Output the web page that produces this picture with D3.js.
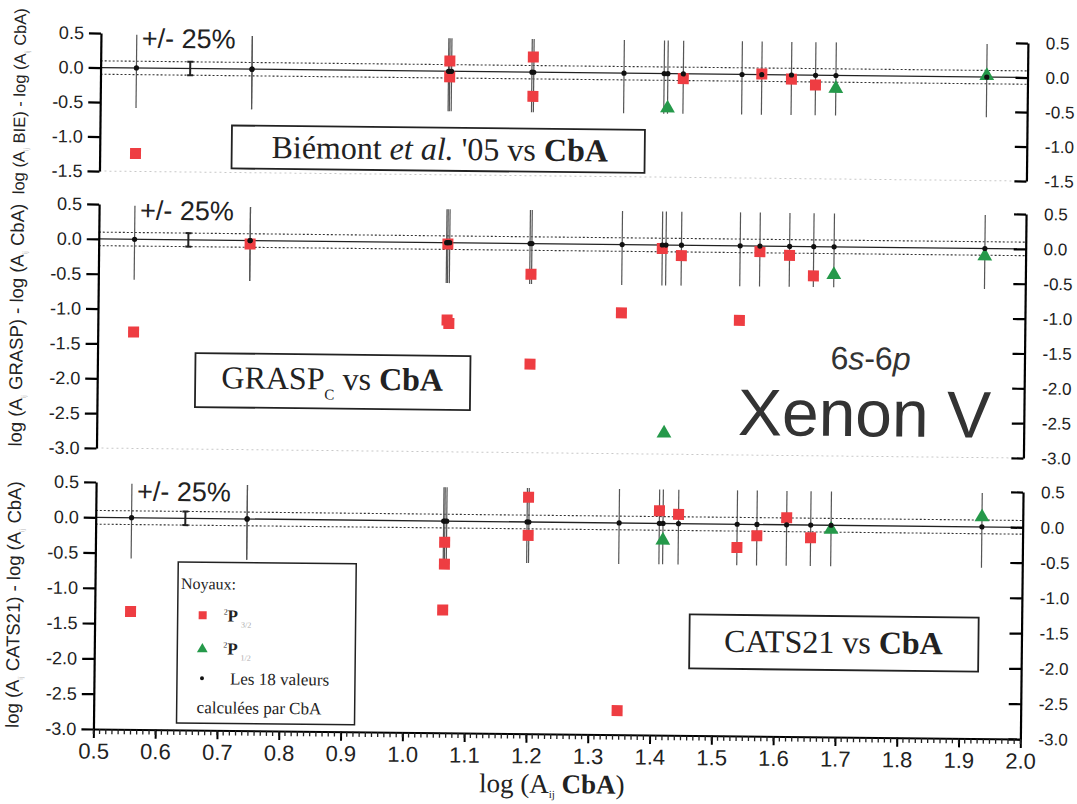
<!DOCTYPE html>
<html>
<head>
<meta charset="utf-8">
<script src="https://cdn.jsdelivr.net/npm/d3@7"></script>
<style>
  body { margin: 0; background: #fff; }
  text { font-family: "Liberation Sans", Arial, sans-serif; }
  .serif { font-family: "Liberation Serif", "Times New Roman", serif; }
</style>
</head>
<body>
<svg id="chart" width="1077" height="804"></svg>
<script>
// the 18 CbA transitions (x = log A CbA), all at 0 on every panel
const cbaX = [0.558, 0.745, 0.745, 1.063, 1.065, 1.068, 1.198, 1.201, 1.347, 1.412, 1.418, 1.443, 1.538, 1.570, 1.618, 1.657, 1.690, 1.934];
const errUp = 0.48, errDown = 0.58;
const band = 0.097; // log(1.25)

// Biémont et al. '05
const bieSqX = [0.558, 1.065, 1.065, 1.200, 1.200, 1.443, 1.570, 1.618, 1.657];
const bieSqY = [-1.24, 0.15, -0.08, 0.22, -0.35, -0.07, 0.01, -0.06, -0.14];
const bieTriX = [1.418, 1.690, 1.934];
const bieTriY = [-0.50, -0.19, 0.02];

// GRASP_C
const graspSqX = [0.558, 0.745, 1.065, 1.065, 1.068, 1.200, 1.200, 1.347, 1.412, 1.443, 1.538, 1.570, 1.618, 1.657];
const graspSqY = [-1.33, -0.05, -0.02, -1.11, -1.16, -0.44, -1.73, -0.98, -0.05, -0.15, -1.07, -0.08, -0.13, -0.42];
const graspTriX = [1.418, 1.690, 1.934];
const graspTriY = [-2.70, -0.40, -0.11];

// CATS21
const catsSqX = [0.558, 1.065, 1.065, 1.063, 1.200, 1.200, 1.347, 1.412, 1.443, 1.538, 1.570, 1.618, 1.657];
const catsSqY = [-1.33, -0.30, -0.61, -1.26, 0.35, -0.19, -2.66, 0.18, 0.13, -0.33, -0.16, 0.10, -0.18];
const catsTriX = [1.418, 1.690, 1.934];
const catsTriY = [-0.24, -0.06, 0.14];

const yTicksTop = [0.5, 0.0, -0.5, -1.0, -1.5];
const yTicksBig = [0.5, 0.0, -0.5, -1.0, -1.5, -2.0, -2.5, -3.0];
const xTicks = d3.range(5, 21).map(d => d / 10);
const xMinor = d3.range(50, 201).map(d => d / 100);

const RED = "#ee3d42", GREEN = "#25994a";

var svg = d3.select("#chart");
// the scanned figure is slightly tilted
var root = svg.append("g").attr("transform", "rotate(0.62 95 400)");

const x = d3.scaleLinear().domain([0.5, 2.0]).range([97, 1024]);

const panels = [
    {dom: [-1.5, 0.5], rng: [171, 33], ticks: yTicksTop, sqX: bieSqX, sqY: bieSqY, triX: bieTriX, triY: bieTriY,
     src: "BIE", pctY: 47, titleSize: 16.5},
    {dom: [-3.0, 0.5], rng: [448, 204], ticks: yTicksBig, sqX: graspSqX, sqY: graspSqY, triX: graspTriX, triY: graspTriY,
     src: "GRASP", pctY: 219, titleSize: 18.5},
    {dom: [-3.0, 0.5], rng: [729, 482], ticks: yTicksBig, sqX: catsSqX, sqY: catsSqY, triX: catsTriX, triY: catsTriY,
     src: "CATS21", pctY: 500, titleSize: 18.5, bottom: true}
];

const fmt = d => d.toFixed(1);

panels.forEach(p => {
    const y = d3.scaleLinear().domain(p.dom).range(p.rng);
    const g = root.append("g");

    // faint dotted line at panel floor
    if (!p.bottom) {
        g.append("line")
            .attr("x1", x(0.5)).attr("x2", x(2.0))
            .attr("y1", y(p.dom[0])).attr("y2", y(p.dom[0]))
            .attr("stroke", "#c8c8c8").attr("stroke-dasharray", "2,3");
    }

    // +/- 25% band
    [band, -band].forEach(b => {
        g.append("line")
            .attr("x1", x(0.5)).attr("x2", x(2.0))
            .attr("y1", y(b)).attr("y2", y(b))
            .attr("stroke", "#333").attr("stroke-width", 1.1).attr("stroke-dasharray", "2,2");
    });

    // zero line
    g.append("line")
        .attr("x1", x(0.5)).attr("x2", x(2.0))
        .attr("y1", y(0)).attr("y2", y(0))
        .attr("stroke", "#222").attr("stroke-width", 1.3);

    // error bars of CbA values
    g.selectAll(".err").data(cbaX).join("line")
        .attr("x1", d => x(d)).attr("x2", d => x(d))
        .attr("y1", y(errUp)).attr("y2", y(-errDown))
        .attr("stroke", "#555").attr("stroke-width", 1.2);

    // small 25% marker
    const mx = x(0.645);
    g.append("line").attr("x1", mx).attr("x2", mx).attr("y1", y(band)).attr("y2", y(-band))
        .attr("stroke", "#222").attr("stroke-width", 2);
    [band, -band].forEach(b => {
        g.append("line").attr("x1", mx - 3).attr("x2", mx + 3).attr("y1", y(b)).attr("y2", y(b))
            .attr("stroke", "#222").attr("stroke-width", 2);
    });

    // red squares
    g.selectAll(".sq").data(p.sqX).join("rect")
        .attr("x", d => x(d) - 5.5)
        .attr("y", (d, i) => y(p.sqY[i]) - 5.5)
        .attr("width", 11).attr("height", 11)
        .attr("fill", RED);

    // green triangles
    g.selectAll(".tri").data(p.triX).join("path")
        .attr("d", d3.symbol(d3.symbolTriangle).size(95))
        .attr("transform", (d, i) => "translate(" + x(d) + "," + y(p.triY[i]) + ")")
        .attr("fill", GREEN);

    // CbA dots
    g.selectAll(".dot").data(cbaX).join("circle")
        .attr("cx", d => x(d)).attr("cy", y(0)).attr("r", 2.6)
        .attr("fill", "#111");

    // left axis
    const la = g.append("g").attr("transform", "translate(" + x(0.5) + ",0)")
        .call(d3.axisLeft(y).tickValues(p.ticks).tickFormat(fmt).tickSizeInner(12).tickSizeOuter(0).tickPadding(5));
    la.select(".domain").attr("stroke-width", 2.2);
    la.selectAll(".tick line").attr("stroke-width", 2.2);
    la.selectAll("text").style("font-size", "18px").attr("fill", "#222");

    // right axis, ticks pointing inwards
    const ra = g.append("g").attr("transform", "translate(" + x(2.0) + ",0)")
        .call(d3.axisRight(y).tickValues(p.ticks).tickFormat(fmt).tickSizeInner(-12).tickSizeOuter(0).tickPadding(18));
    ra.select(".domain").attr("stroke-width", 2.2);
    ra.selectAll(".tick line").attr("stroke-width", 2.2);
    ra.selectAll("text").style("font-size", "17px").attr("fill", "#222");

    // y title
    const yc = (p.rng[0] + p.rng[1]) / 2;
    const t = g.append("text")
        .attr("transform", "translate(22," + yc + ") rotate(-90)")
        .attr("text-anchor", "middle")
        .style("font-size", p.titleSize + "px").attr("fill", "#222");
    t.append("tspan").text("log (A");
    t.append("tspan").text("ij").style("font-size", "7px").attr("fill", "#bbb").attr("dy", 4);
    t.append("tspan").text(" " + p.src + ") - log (A").attr("dy", -4);
    t.append("tspan").text("ij").style("font-size", "7px").attr("fill", "#bbb").attr("dy", 4);
    t.append("tspan").text(" CbA)").attr("dy", -4);

    // +/- 25%
    g.append("text").attr("x", 138).attr("y", p.pctY)
        .style("font-size", "27px").attr("fill", "#222").text("+/- 25%");

    if (p.bottom) {
        const xa = g.append("g").attr("transform", "translate(0," + y(-3.0) + ")")
            .call(d3.axisBottom(x).tickValues(xTicks).tickFormat(fmt).tickSizeInner(9).tickSizeOuter(0).tickPadding(5));
        xa.select(".domain").attr("stroke-width", 2.2);
        xa.selectAll(".tick line").attr("stroke-width", 2);
        xa.selectAll("text").style("font-size", "22px").attr("fill", "#222");
        g.append("g").attr("transform", "translate(0," + y(-3.0) + ")")
            .selectAll("line").data(xMinor).join("line")
            .attr("x1", d => x(d)).attr("x2", d => x(d))
            .attr("y1", 0).attr("y2", 5)
            .attr("stroke", "#222").attr("stroke-width", 1.3);
    }
});

// panel label boxes
function labelBox(x0, y0, w, h) {
    root.append("rect").attr("x", x0).attr("y", y0).attr("width", w).attr("height", h)
        .attr("fill", "#fff").attr("stroke", "#222").attr("stroke-width", 1.8);
}

labelBox(229, 124, 413, 43);
const t1 = root.append("text").attr("class", "serif").attr("x", 437).attr("y", 156)
    .attr("text-anchor", "middle").style("font-size", "32px").attr("fill", "#222");
t1.append("tspan").text("Biémont ");
t1.append("tspan").text("et al.").style("font-style", "italic");
t1.append("tspan").text(" '05 vs ");
t1.append("tspan").text("CbA").style("font-weight", "bold");

labelBox(195, 352, 275, 54);
const t2 = root.append("text").attr("class", "serif").attr("x", 332).attr("y", 387)
    .attr("text-anchor", "middle").style("font-size", "32px").attr("fill", "#222");
t2.append("tspan").text("GRASP");
t2.append("tspan").text("C").style("font-size", "15px").attr("dy", 10);
t2.append("tspan").text(" vs ").attr("dy", -10);
t2.append("tspan").text("CbA").style("font-weight", "bold");

labelBox(692, 608, 289, 54);
const t3 = root.append("text").attr("class", "serif").attr("x", 836).attr("y", 645)
    .attr("text-anchor", "middle").style("font-size", "32px").attr("fill", "#222");
t3.append("tspan").text("CATS21 vs ");
t3.append("tspan").text("CbA").style("font-weight", "bold");

// 6s-6p  Xenon V
const t4 = root.append("text").attr("x", 830).attr("y", 361).style("font-size", "32px").attr("fill", "#333");
t4.append("tspan").text("6");
t4.append("tspan").text("s").style("font-style", "italic");
t4.append("tspan").text("-6");
t4.append("tspan").text("p").style("font-style", "italic");
root.append("text").attr("x", 738).attr("y", 428).style("font-size", "66px").attr("fill", "#333").text("Xenon V");

// legend
const lg = root.append("g");
lg.append("rect").attr("x", 180).attr("y", 561).attr("width", 178).attr("height", 161)
    .attr("fill", "#fff").attr("stroke", "#222").attr("stroke-width", 1.5);
lg.append("text").attr("class", "serif").attr("x", 183).attr("y", 588).style("font-size", "16px").attr("fill", "#222").text("Noyaux:");
lg.append("rect").attr("x", 201).attr("y", 610).attr("width", 8).attr("height", 8).attr("fill", RED);
lg.append("path").attr("d", d3.symbol(d3.symbolTriangle).size(50)).attr("transform", "translate(205,648)").attr("fill", GREEN);
lg.append("circle").attr("cx", 205).attr("cy", 677).attr("r", 2).attr("fill", "#111");
[["3/2", 620], ["1/2", 653]].forEach(([sub, yy]) => {
    const tt = lg.append("text").attr("class", "serif").attr("x", 226).attr("y", yy).style("font-size", "17px").attr("fill", "#222");
    tt.append("tspan").text("2").style("font-size", "8px").attr("dy", -7);
    tt.append("tspan").text("P").attr("dy", 7).style("font-weight", "bold");
    tt.append("tspan").text(sub).style("font-size", "8px").attr("fill", "#aaa").attr("dy", 6).attr("dx", 3);
});
lg.append("text").attr("class", "serif").attr("x", 233).attr("y", 683).style("font-size", "17px").attr("fill", "#222").text("Les 18 valeurs");
lg.append("text").attr("class", "serif").attr("x", 200).attr("y", 712).style("font-size", "17px").attr("fill", "#222").text("calculées par CbA");

// x title
const xt = root.append("text").attr("class", "serif").attr("x", 556).attr("y", 788)
    .attr("text-anchor", "middle").style("font-size", "27px").attr("fill", "#222");
xt.append("tspan").text("log (A");
xt.append("tspan").text("ij").style("font-size", "11px").attr("dy", 5);
xt.append("tspan").text(" CbA").attr("dy", -5).style("font-weight", "bold");
xt.append("tspan").text(")");
</script>
</body>
</html>
